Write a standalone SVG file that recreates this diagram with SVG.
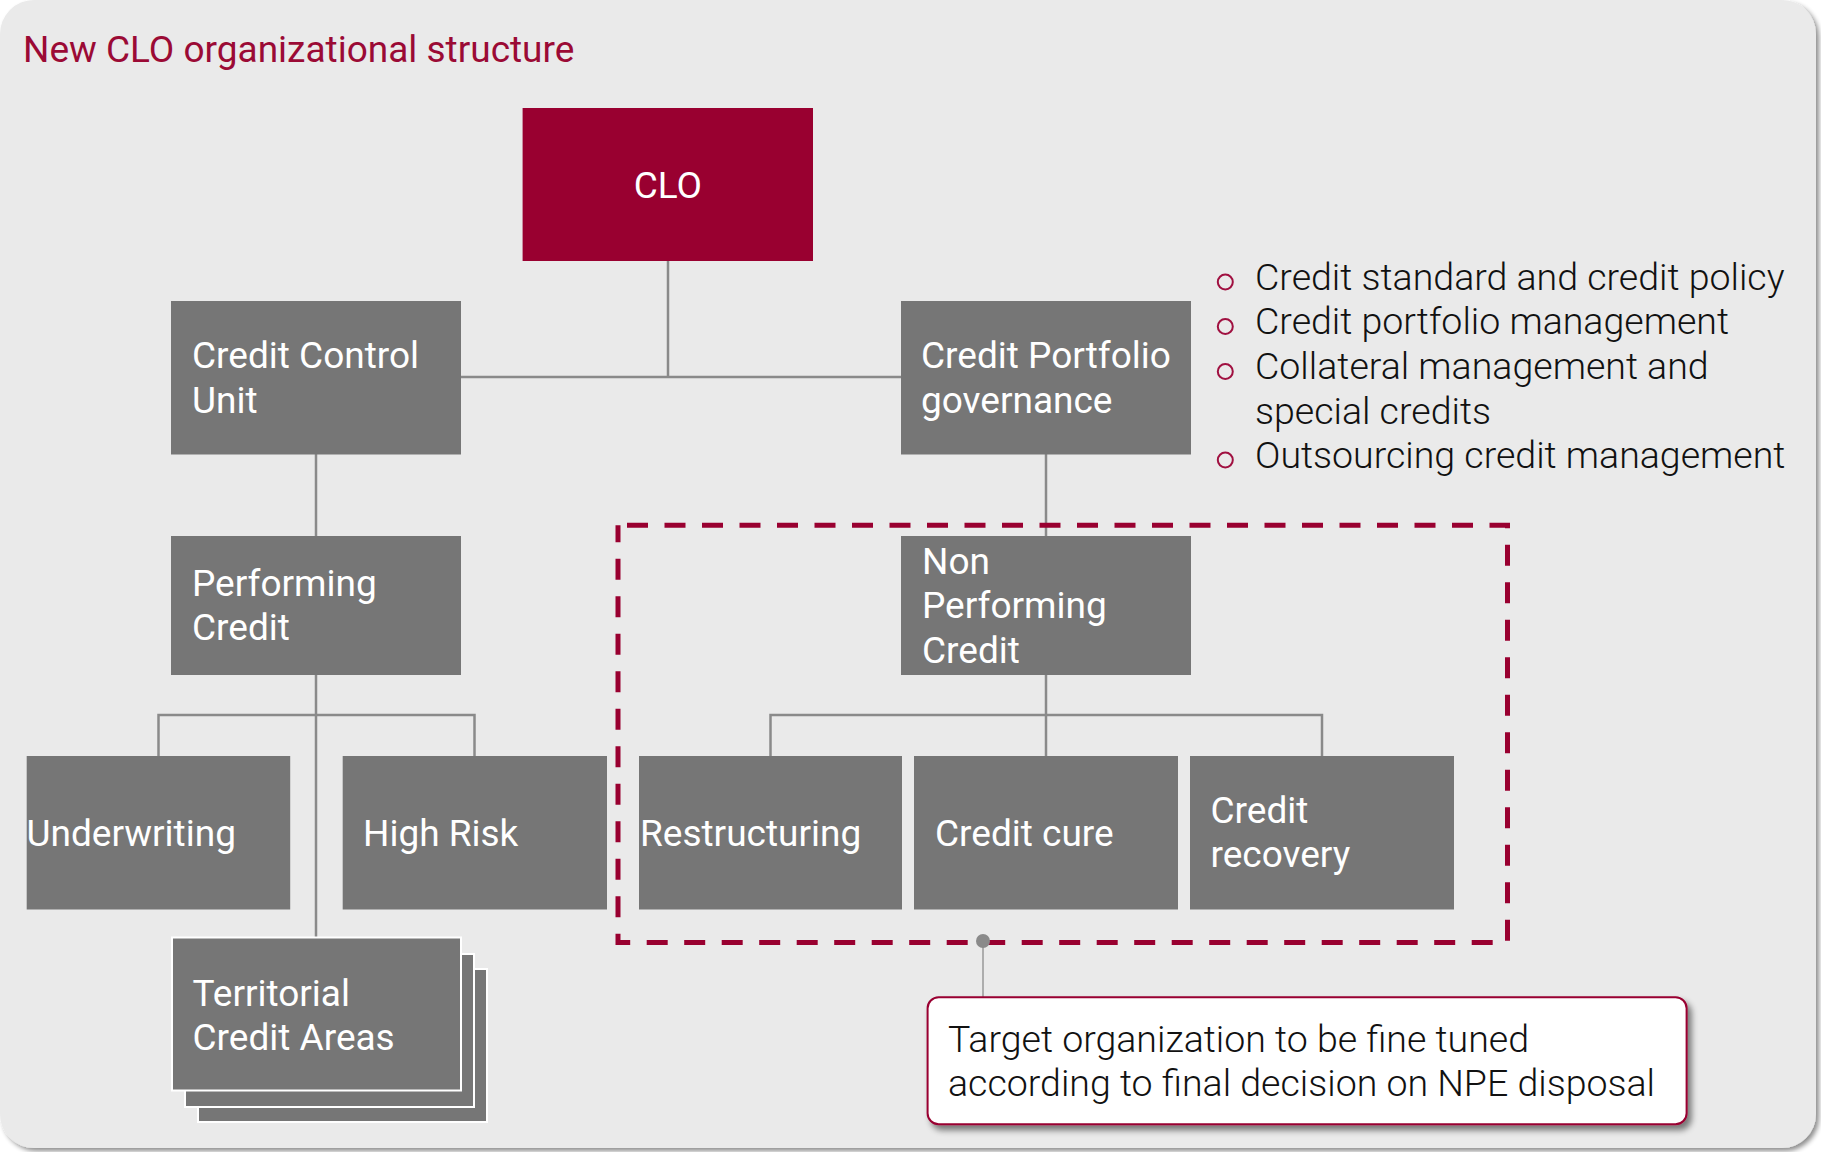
<svg xmlns="http://www.w3.org/2000/svg" width="1821" height="1152" viewBox="0 0 1821 1152">
  <defs>
    <filter id="shadow" x="-5%" y="-5%" width="110%" height="110%">
      <feGaussianBlur in="SourceAlpha" stdDeviation="2.5"/>
      <feOffset dx="3" dy="3" result="b"/>
      <feComponentTransfer><feFuncA type="linear" slope="0.45"/></feComponentTransfer>
      <feMerge><feMergeNode/><feMergeNode in="SourceGraphic"/></feMerge>
    </filter>
    <filter id="shadow2" x="-5%" y="-10%" width="110%" height="125%">
      <feGaussianBlur in="SourceAlpha" stdDeviation="3"/>
      <feOffset dx="4" dy="5" result="b"/>
      <feComponentTransfer><feFuncA type="linear" slope="0.5"/></feComponentTransfer>
      <feMerge><feMergeNode/><feMergeNode in="SourceGraphic"/></feMerge>
    </filter>
  </defs>
  <style>
    .box { fill: #767676; }
    .red { fill: #990030; }
    .stack { fill: #767676; stroke: #ffffff; stroke-width: 2; }
    .bt { font-family: Roboto, "Liberation Sans", sans-serif; font-size: 37px; fill: #ffffff; }
    .lt { font-family: Roboto, "Liberation Sans", sans-serif; font-size: 37.5px; font-weight: 300; fill: #111111; }
    .conn { stroke: #8a8a8a; stroke-width: 2.5; fill: none; }
    .bullet { fill: none; stroke: #a01040; stroke-width: 2; }
  </style>

  <rect x="0" y="0" width="1816" height="1148" rx="34" ry="34" fill="#eaeaea" filter="url(#shadow)"/>

  <text x="23" y="61.5" font-family="Roboto, 'Liberation Sans', sans-serif" font-size="37" fill="#9b0a35">New CLO organizational structure</text>

  <g id="connectors">
    <line class="conn" x1="668" y1="261" x2="668" y2="377"/>
    <line class="conn" x1="461" y1="377" x2="901" y2="377"/>
    <line class="conn" x1="1046" y1="454" x2="1046" y2="536"/>
    <line class="conn" x1="316" y1="454" x2="316" y2="536"/>
    <line class="conn" x1="316" y1="675" x2="316" y2="938"/>
    <polyline class="conn" points="158.5,756 158.5,715 474.5,715 474.5,756"/>
    <line class="conn" x1="1046" y1="675" x2="1046" y2="756"/>
    <polyline class="conn" points="770.5,756 770.5,715 1322,715 1322,756"/>
    <line x1="983" y1="943" x2="983" y2="998" stroke="#999999" stroke-width="1.5"/>
  </g>

  <g id="npe-frame">
    <rect x="618" y="525.3" width="889.5" height="417.2" fill="none" stroke="#990030" stroke-width="5" stroke-dasharray="21 16.5" stroke-dashoffset="28.5"/>
    <circle cx="983" cy="941" r="7" fill="#8a8a8a"/>
  </g>

  <g id="clo">
    <rect class="red" x="522.6" y="108" width="290.4" height="153"/>
    <text class="bt" x="667.8" y="198" text-anchor="middle">CLO</text>
  </g>
  <g id="credit-control-unit">
    <rect class="box" x="171" y="301" width="290" height="153.5"/>
    <text class="bt" x="192" y="368">Credit Control</text>
    <text class="bt" x="192" y="413">Unit</text>
  </g>
  <g id="credit-portfolio-governance">
    <rect class="box" x="901" y="301" width="290" height="153.5"/>
    <text class="bt" x="921" y="368">Credit Portfolio</text>
    <text class="bt" x="921" y="413">governance</text>
  </g>
  <g id="performing-credit">
    <rect class="box" x="171" y="536" width="290" height="139"/>
    <text class="bt" x="192" y="595.5">Performing</text>
    <text class="bt" x="192" y="640">Credit</text>
  </g>
  <g id="non-performing-credit">
    <rect class="box" x="901" y="536" width="290" height="139"/>
    <text class="bt" x="922" y="573.5">Non</text>
    <text class="bt" x="922" y="618">Performing</text>
    <text class="bt" x="922" y="663">Credit</text>
  </g>
  <g id="underwriting">
    <rect class="box" x="26.7" y="756" width="263.5" height="153.5"/>
    <text class="bt" x="26.5" y="846">Underwriting</text>
  </g>
  <g id="high-risk">
    <rect class="box" x="342.7" y="756" width="264.3" height="153.5"/>
    <text class="bt" x="363" y="846">High Risk</text>
  </g>
  <g id="restructuring">
    <rect class="box" x="639" y="756" width="263" height="153.5"/>
    <text class="bt" x="640" y="846">Restructuring</text>
  </g>
  <g id="credit-cure">
    <rect class="box" x="914" y="756" width="264" height="153.5"/>
    <text class="bt" x="935" y="846">Credit cure</text>
  </g>
  <g id="credit-recovery">
    <rect class="box" x="1190" y="756" width="264" height="153.5"/>
    <text class="bt" x="1210.5" y="823">Credit</text>
    <text class="bt" x="1210.5" y="867">recovery</text>
  </g>
  <g id="territorial-credit-areas">
    <rect class="stack" x="198" y="969" width="289" height="153"/>
    <rect class="stack" x="185" y="954" width="289" height="153"/>
    <rect class="stack" x="172" y="937.5" width="289" height="153"/>
    <text class="bt" x="192.5" y="1006">Territorial</text>
    <text class="bt" x="192.5" y="1050">Credit Areas</text>
  </g>

  <g id="bullets">
    <circle class="bullet" cx="1225.3" cy="282" r="7.5"/>
    <circle class="bullet" cx="1225.3" cy="326.5" r="7.5"/>
    <circle class="bullet" cx="1225.3" cy="371.5" r="7.5"/>
    <circle class="bullet" cx="1225.3" cy="460" r="7.5"/>
    <text class="lt" x="1255" y="289.5">Credit standard and credit policy</text>
    <text class="lt" x="1255" y="334">Credit portfolio management</text>
    <text class="lt" x="1255" y="379">Collateral management and</text>
    <text class="lt" x="1255" y="423.5">special credits</text>
    <text class="lt" x="1255" y="468">Outsourcing credit management</text>
  </g>

  <g id="callout">
    <rect x="927.6" y="997.3" width="759" height="127" rx="11" ry="11" fill="#ffffff" stroke="#990030" stroke-width="2" filter="url(#shadow2)"/>
    <text class="lt" x="948" y="1051.5">Target organization to be fine tuned</text>
    <text class="lt" x="948" y="1096">according to final decision on NPE disposal</text>
  </g>
</svg>
